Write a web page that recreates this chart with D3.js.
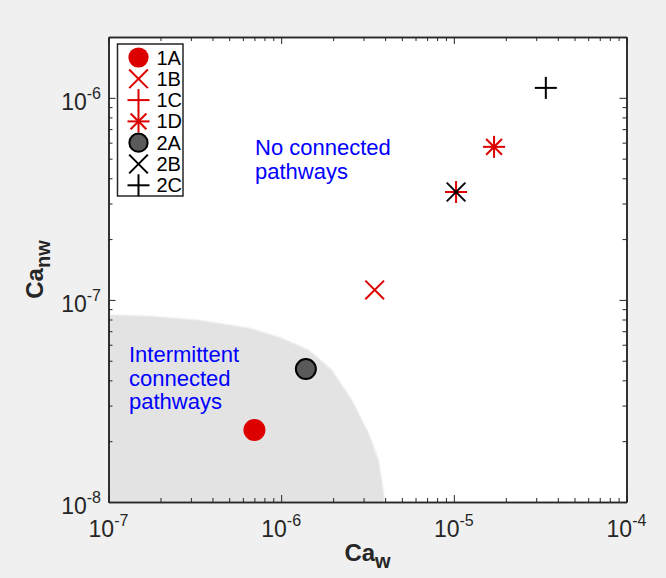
<!DOCTYPE html>
<html>
<head>
<meta charset="utf-8">
<script src="https://cdn.jsdelivr.net/npm/d3@7"></script>
<style>
  html, body { margin: 0; padding: 0; background: #ffffff; }
  svg { display: block; }
  text { font-family: "Liberation Sans", Helvetica, Arial, sans-serif; }
</style>
</head>
<body>
<svg id="chart" width="666" height="578"></svg>
<script>
// ---------------- data ----------------
const seriesNames = ["1A", "1B", "1C", "1D", "2A", "2B", "2C"];
const caW  = [7.0e-7, 3.48e-6, 1.03e-5, 1.71e-5, 1.39e-6, 1.03e-5, 3.41e-5];
const caNW = [2.27e-8, 1.12e-7, 3.42e-7, 5.72e-7, 4.55e-8, 3.42e-7, 1.12e-6];
const markerTypes = ["dot", "x", "plus", "star", "dot", "x", "plus"];
const markerGroup = [1, 1, 1, 1, 2, 2, 2];

// boundary of the "intermittent connected pathways" region
const boundaryW  = [1e-7, 1.73e-7, 3.36e-7, 6.55e-7, 9.73e-7, 1.45e-6, 1.97e-6, 2.57e-6, 3.21e-6, 3.67e-6, 3.93e-6, 3.97e-6];
const boundaryNW = [8.44e-8, 8.33e-8, 7.96e-8, 7.26e-8, 6.56e-8, 5.65e-8, 4.5e-8, 3.2e-8, 2.2e-8, 1.61e-8, 1.11e-8, 1e-8];

const xMajor = [-7, -6, -5, -4];
const yMajor = [-8, -7, -6];

// ---------------- layout ----------------
const W = 666, H = 578;
const L = 108.5, R = 626.5, T = 37, B = 502;
const svg = d3.select("#chart");

svg.append("rect").attr("x", 0).attr("y", 0).attr("width", W).attr("height", H).attr("fill", "#f0f0f0");

const x = d3.scaleLog().domain([1e-7, 1e-4]).range([L, R]);
const y = d3.scaleLog().domain([1e-8, 2e-6]).range([B, T]);

svg.append("rect").attr("x", L).attr("y", T).attr("width", R - L).attr("height", B - T).attr("fill", "#ffffff");

// shaded region
const region = boundaryW.map((w, i) => [w, boundaryNW[i]]);
const regionPts = [[1e-7, 1e-8]].concat(region);
svg.append("path")
  .attr("d", d3.line().x(d => x(d[0])).y(d => y(d[1])).curve(d3.curveLinear)(regionPts) + "Z")
  .attr("fill", "#e3e3e3")
  .attr("stroke", "#f2f2f2")
  .attr("stroke-width", 2)
  .attr("stroke-dasharray", "2,2");

// minor tick values
function minors(lo, hi) {
  const out = [];
  for (let e = lo; e < hi; e++) for (let m = 2; m <= 9; m++) out.push(m * Math.pow(10, e));
  return out;
}
const xMinor = minors(-7, -4);
const yMinor = minors(-8, -6);

const axisColor = "#262626";
function styleAxis(g) {
  g.selectAll("path.domain").attr("stroke", axisColor).attr("stroke-width", 1.5);
  g.selectAll(".tick line").attr("stroke", axisColor).attr("stroke-width", 1);
  g.selectAll(".tick text").remove();
}
const xm = xMajor.map(e => Math.pow(10, e));
const ym = yMajor.map(e => Math.pow(10, e));

svg.append("g").attr("transform", `translate(0,${B})`)
  .call(d3.axisBottom(x).tickValues(xm).tickSizeInner(-7).tickSizeOuter(0)).call(styleAxis);
svg.append("g").attr("transform", `translate(0,${B})`)
  .call(d3.axisBottom(x).tickValues(xMinor).tickSizeInner(-4).tickSizeOuter(0)).call(styleAxis);
svg.append("g").attr("transform", `translate(0,${T})`)
  .call(d3.axisTop(x).tickValues(xm).tickSizeInner(-7).tickSizeOuter(0)).call(styleAxis);
svg.append("g").attr("transform", `translate(0,${T})`)
  .call(d3.axisTop(x).tickValues(xMinor).tickSizeInner(-4).tickSizeOuter(0)).call(styleAxis);
svg.append("g").attr("transform", `translate(${L},0)`)
  .call(d3.axisLeft(y).tickValues(ym).tickSizeInner(-7).tickSizeOuter(0)).call(styleAxis);
svg.append("g").attr("transform", `translate(${L},0)`)
  .call(d3.axisLeft(y).tickValues(yMinor).tickSizeInner(-4).tickSizeOuter(0)).call(styleAxis);
svg.append("g").attr("transform", `translate(${R},0)`)
  .call(d3.axisRight(y).tickValues(ym).tickSizeInner(-7).tickSizeOuter(0)).call(styleAxis);
svg.append("g").attr("transform", `translate(${R},0)`)
  .call(d3.axisRight(y).tickValues(yMinor).tickSizeInner(-4).tickSizeOuter(0)).call(styleAxis);

// tick labels with superscripts
function powLabel(g, e, px, py, anchor) {
  const t = g.append("text").attr("x", px).attr("y", py).attr("text-anchor", anchor)
    .attr("fill", "#262626").attr("font-size", 23);
  t.append("tspan").text("10");
  t.append("tspan").attr("font-size", 16).attr("dy", -11).text(String(e));
}
const labels = svg.append("g");
xMajor.forEach(e => powLabel(labels, e, x(Math.pow(10, e)), 537, "middle"));
yMajor.forEach(e => powLabel(labels, e, 101, y(Math.pow(10, e)) + 12, "end"));

// axis titles
const xt = svg.append("text").attr("x", (L + R) / 2).attr("y", 561).attr("text-anchor", "middle")
  .attr("font-weight", "bold").attr("font-size", 24).attr("fill", "#262626");
xt.append("tspan").text("Ca");
xt.append("tspan").attr("font-size", 20).attr("dy", 7).text("w");

const yt = svg.append("text").attr("transform", `translate(43,${(T + B) / 2}) rotate(-90)`)
  .attr("text-anchor", "middle").attr("font-weight", "bold").attr("font-size", 24).attr("fill", "#262626");
yt.append("tspan").text("Ca");
yt.append("tspan").attr("font-size", 20).attr("dy", 7).text("nw");

// region annotations (one text element per line)
function multiText(lines, px, py, dy) {
  lines.forEach((s, i) => svg.append("text").attr("fill", "#0000ff").attr("font-size", 22)
    .attr("x", px).attr("y", py + i * dy).text(s));
}
multiText(["No connected", "pathways"], 255, 155, 23.5);
multiText(["Intermittent", "connected", "pathways"], 129, 362, 23.5);

// markers
const RED = "#dd0000", BLACK = "#000000", GRAY = "#5a5a5a";
function drawMarker(g, type, group, cx, cy, scale) {
  const col = group === 1 ? RED : BLACK;
  const s = 11 * scale;
  if (type === "dot") {
    if (group === 1) g.append("circle").attr("cx", cx).attr("cy", cy).attr("r", s).attr("fill", RED);
    else g.append("circle").attr("cx", cx).attr("cy", cy).attr("r", s - 1).attr("fill", GRAY)
      .attr("stroke", BLACK).attr("stroke-width", 2);
    return;
  }
  let segs = [];
  if (type === "x") { const k = s * 0.85; segs = [[-k, -k, k, k], [-k, k, k, -k]]; }
  if (type === "plus") { segs = [[-s, 0, s, 0], [0, -s, 0, s]]; }
  if (type === "star") { const k = s * 0.72; segs = [[-s, 0, s, 0], [0, -s, 0, s], [-k, -k, k, k], [-k, k, k, -k]]; }
  segs.forEach(sg => g.append("line")
    .attr("x1", cx + sg[0]).attr("y1", cy + sg[1]).attr("x2", cx + sg[2]).attr("y2", cy + sg[3])
    .attr("stroke", col).attr("stroke-width", 2));
}

const pts = svg.append("g");
seriesNames.forEach((n, i) => drawMarker(pts, markerTypes[i], markerGroup[i], x(caW[i]), y(caNW[i]), 1));

// legend
const LX = 117.5, LY = 44, LW = 65.5, LH = 152;
const leg = svg.append("g");
leg.append("rect").attr("x", LX).attr("y", LY).attr("width", LW).attr("height", LH)
  .attr("fill", "#ffffff").attr("stroke", "#262626").attr("stroke-width", 1.5);
seriesNames.forEach((n, i) => {
  const cy = LY + 13.5 + i * 21.3;
  drawMarker(leg, markerTypes[i], markerGroup[i], LX + 21, cy, markerTypes[i] === "dot" ? 0.92 : 1);
  leg.append("text").attr("x", LX + 39).attr("y", cy + 7).attr("font-size", 20).attr("fill", "#000").text(n);
});
</script>
</body>
</html>
